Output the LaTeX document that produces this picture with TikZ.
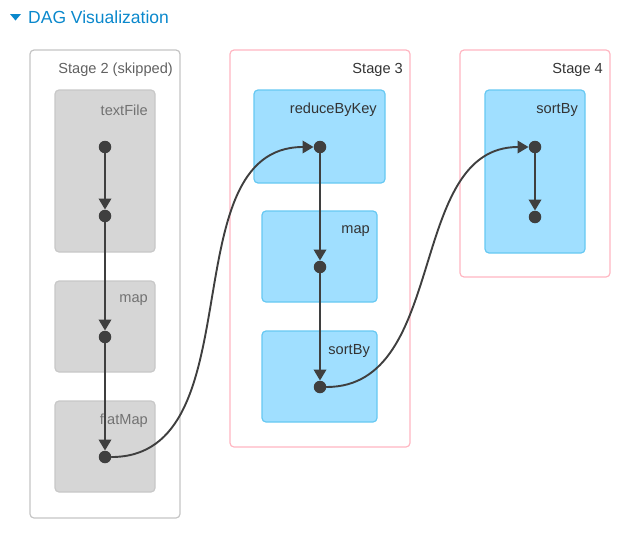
\documentclass[tikz,border=0pt]{standalone}
\usepackage{fontspec}
\setmainfont{Liberation Sans}
\usetikzlibrary{arrows.meta}
\definecolor{linkblue}{HTML}{0A88CC}
\definecolor{skipline}{HTML}{C4C4C4}
\definecolor{skipfill}{HTML}{D6D6D6}
\definecolor{skipedge}{HTML}{C8C8C8}
\definecolor{stageline}{HTML}{FFB6C1}
\definecolor{opfill}{HTML}{A0DFFF}
\definecolor{opline}{HTML}{66C8F2}
\definecolor{dotgray}{HTML}{3F3F3F}
\definecolor{txtdark}{HTML}{333333}
\definecolor{txtskip}{HTML}{727272}
\begin{document}
\begin{tikzpicture}[x=1pt,y=-1pt,line cap=round,line join=round,>={Triangle[length=11pt,width=12.5pt]},
  skipstage/.style={draw=skipline, line width=1.2pt, rounded corners=4pt, inner sep=0},
  runstage/.style={draw=stageline, line width=1.2pt, rounded corners=4pt, inner sep=0},
  skipop/.style={draw=skipedge, fill=skipfill, line width=1.2pt, rounded corners=4pt, inner sep=0},
  runop/.style={draw=opline, fill=opfill, line width=1.2pt, rounded corners=4pt, inner sep=0},
  stagelbl/.style={anchor=east, inner sep=0, font=\fontsize{14.6}{16}\selectfont, text=txtdark},
  oplbl/.style={anchor=east, inner sep=0, font=\fontsize{14.6}{16}\selectfont, text=txtdark},
  rdd/.style={circle, fill=dotgray, minimum size=12.5pt, inner sep=0},
  edge/.style={draw=dotgray, line width=1.9pt, ->}]
\useasboundingbox (0,0) rectangle (639,538);
% header
\fill[linkblue] (10,14) -- (21,14) -- (15.5,20.5) -- cycle;
\node[anchor=base west, inner sep=0, text=linkblue, font=\fontsize{17.5}{20}\selectfont] (title) at (28,23) {DAG Visualization};

% stage boxes
\node[skipstage, minimum width=150pt, minimum height=468pt] (stageTwo) at (105,284) {};
\node[runstage, minimum width=180pt, minimum height=397pt] (stageThree) at (320,248.5) {};
\node[runstage, minimum width=150pt, minimum height=227pt] (stageFour) at (535,163.5) {};
\node[stagelbl, text=txtskip!85!black] at (173,70) {Stage 2 (skipped)};
\node[stagelbl] at (403,70) {Stage 3};
\node[stagelbl] at (603,70) {Stage 4};

% operation boxes
\node[skipop, minimum width=100pt, minimum height=162pt] (textFile) at (105,171) {};
\node[skipop, minimum width=100pt, minimum height=91pt] (mapA) at (105,326.5) {};
\node[skipop, minimum width=100pt, minimum height=91pt] (flatMap) at (105,446.5) {};
\node[runop, minimum width=131pt, minimum height=93pt] (reduceByKey) at (319.5,136.5) {};
\node[runop, minimum width=115pt, minimum height=91pt] (mapB) at (319.5,256.5) {};
\node[runop, minimum width=115pt, minimum height=91pt] (sortByA) at (319.5,376.5) {};
\node[runop, minimum width=100pt, minimum height=163pt] (sortByB) at (535,171.5) {};
\node[oplbl, text=txtskip] at (148,110) {textFile};
\node[oplbl, text=txtskip] at (148,300) {map};
\node[oplbl, text=txtskip] at (148,421) {flatMap};
\node[oplbl] at (377,110) {reduceByKey};
\node[oplbl] at (370,231) {map};
\node[oplbl] at (370,351) {sortBy};
\node[oplbl] at (578,110) {sortBy};

% rdd dots
\node[rdd] (t1) at (105,147) {};
\node[rdd] (t2) at (105,216) {};
\node[rdd] (m1) at (105,337) {};
\node[rdd] (f1) at (105,457) {};
\node[rdd] (r1) at (320,147) {};
\node[rdd] (m2) at (320,267) {};
\node[rdd] (s1) at (320,387) {};
\node[rdd] (s2) at (535,147) {};
\node[rdd] (s3) at (535,217) {};

% edges
\draw[edge] (t1) -- (t2);
\draw[edge] (t2) -- (m1);
\draw[edge] (m1) -- (f1);
\draw[edge] (f1) to[out=0, in=180] (r1);
\draw[edge] (r1) -- (m2);
\draw[edge] (m2) -- (s1);
\draw[edge] (s1) to[out=0, in=180] (s2);
\draw[edge] (s2) -- (s3);
\end{tikzpicture}
\end{document}
